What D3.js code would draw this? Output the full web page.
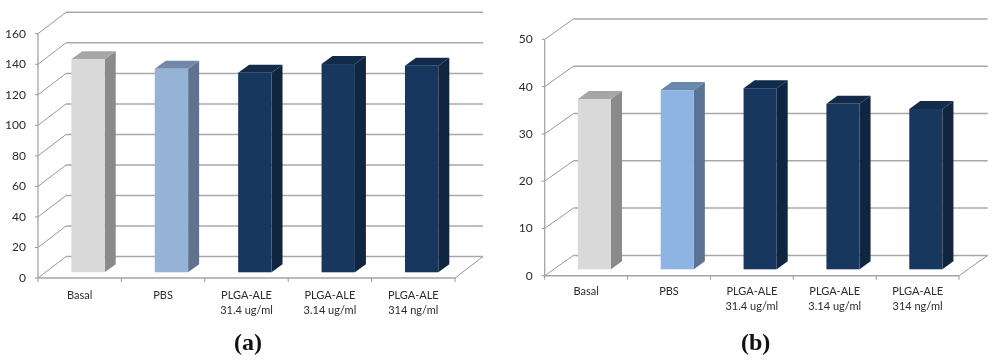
<!DOCTYPE html>
<html><head><meta charset="utf-8">
<script src="https://cdn.jsdelivr.net/npm/d3@7/dist/d3.min.js"></script>
<style>html,body{margin:0;padding:0;background:#fff}svg{display:block;filter:blur(0.35px)}</style>
</head><body><svg id="c" width="1000" height="362"></svg>
<script>
const categories = ["Basal","PBS","PLGA-ALE|31.4 ug/ml","PLGA-ALE|3.14 ug/ml","PLGA-ALE|314 ng/ml"];
const valuesA = [139.5,133.3,130.7,136.4,135.3];
const valuesB = [36,37.9,38.3,35,33.9];
const ticksA = [0,20,40,60,80,100,120,140,160];
const ticksB = [0,10,20,30,40,50];
const greyFill = {front:"#d9d9d9",top:"#a6a6a6",side:"#8a8a8a"};
const navyFill = {front:"#17375e",top:"#122b4b",side:"#10253f"};
const pbsA = {front:"#95b3d7",top:"#7288a8",side:"#5f7390"};
const pbsB = {front:"#8db4e2",top:"#6a87ad",side:"#5a7394"};

const svg = d3.select("#c");
const FONT = "Lato, 'Open Sans', sans-serif";

function panel(o){
  const g = svg.append("g");
  const y = d3.scaleLinear().domain(o.domain).range([o.y0,o.yTop]);
  const x = d3.scaleBand().domain(categories).range([o.x0,o.x1]);
  const band = x.bandwidth();
  const grid = "#a8a8a8";

  // back wall gridlines and side-wall diagonals
  o.ticks.forEach(t=>{
    g.append("line").attr("x1",o.x0+o.dx).attr("x2",o.x1+o.dx)
      .attr("y1",y(t)-o.dy).attr("y2",y(t)-o.dy)
      .attr("stroke",grid).attr("stroke-width",1.5);
    g.append("line").attr("x1",o.x0).attr("x2",o.x0+o.dx)
      .attr("y1",y(t)).attr("y2",y(t)-o.dy)
      .attr("stroke","#989898").attr("stroke-width",1);
    g.append("line").attr("x1",o.x0-3).attr("x2",o.x0)
      .attr("y1",y(t)).attr("y2",y(t))
      .attr("stroke","#989898").attr("stroke-width",1);
    g.append("text").attr("x",o.x0-12).attr("y",y(t)+4)
      .attr("text-anchor","end").attr("font-family",FONT).attr("font-size",o.tickSize)
      .attr("fill","#2b2b2b").text(t);
  });
  // right floor diagonal
  g.append("line").attr("x1",o.x1).attr("x2",o.x1+o.dx)
    .attr("y1",o.y0).attr("y2",o.y0-o.dy).attr("stroke","#989898").attr("stroke-width",1);
  // axes
  g.append("line").attr("x1",o.x0).attr("x2",o.x0).attr("y1",y(o.domain[1])).attr("y2",o.y0)
    .attr("stroke","#a4a4a4").attr("stroke-width",1.3);
  g.append("line").attr("x1",o.x0).attr("x2",o.x1).attr("y1",o.y0).attr("y2",o.y0)
    .attr("stroke","#a4a4a4").attr("stroke-width",1.5);
  d3.range(0,6).forEach(i=>{
    const px = o.x0+i*band;
    g.append("line").attr("x1",px).attr("x2",px).attr("y1",o.y0).attr("y2",o.y0+4)
      .attr("stroke","#989898").attr("stroke-width",1);
  });

  // bars
  const bw = band*0.4, off = band*0.4;
  const bars = g.selectAll("g.bar").data(o.values).join("g").attr("class","bar");
  const bx = (d,i)=>x(categories[i])+off;
  const top = d=>y(d)-o.lift;
  const bot = o.y0-o.lift;
  bars.append("path").attr("fill",(d,i)=>o.fills[i].side)
    .attr("d",(d,i)=>{const l=bx(d,i)+bw;return `M${l},${top(d)}L${l+o.sx},${top(d)-o.sy}L${l+o.sx},${bot-o.sy}L${l},${bot}Z`;});
  bars.append("path").attr("fill",(d,i)=>o.fills[i].top)
    .attr("d",(d,i)=>{const l=bx(d,i);return `M${l},${top(d)}L${l+o.sx},${top(d)-o.sy}L${l+bw+o.sx},${top(d)-o.sy}L${l+bw},${top(d)}Z`;});
  bars.append("rect").attr("fill",(d,i)=>o.fills[i].front)
    .attr("x",bx).attr("y",top).attr("width",bw).attr("height",d=>bot-top(d));

  // category labels
  categories.forEach(c=>{
    const lines = c.split("|");
    const t = g.append("text").attr("text-anchor","middle").attr("font-family",FONT)
      .attr("font-size",o.catSize).attr("fill","#2b2b2b");
    lines.forEach((s,i)=>{
      t.append("tspan").attr("x",x(c)+band/2+o.labelShift).attr("y",o.labelY+i*o.labelGap).text(s);
    });
  });
  // caption
  const cap = g.append("text").attr("x",o.capX).attr("y",350).attr("text-anchor","middle")
    .attr("font-family","'Liberation Serif',serif").attr("font-weight","bold").attr("font-size",24).attr("fill","#111");
  cap.append("tspan").text("(" + o.cap + ")");
}

panel({domain:[0,160],ticks:ticksA,values:valuesA,x0:38,x1:455,y0:278,yTop:33.7,dx:28,dy:21.4,
  lift:5.7,sx:11,sy:8,fills:[greyFill,pbsA,navyFill,navyFill,navyFill],
  tickSize:12,catSize:11,labelY:299,labelGap:14.5,labelShift:0,capX:248,cap:"a"});
panel({domain:[0,50],ticks:ticksB,values:valuesB,x0:544.7,x1:959,y0:275.7,yTop:39.3,dx:28.7,dy:20.3,
  lift:6.4,sx:11,sy:8,fills:[greyFill,pbsB,navyFill,navyFill,navyFill],
  tickSize:12,catSize:11,labelY:295,labelGap:14.5,labelShift:0,capX:755.7,cap:"b"});
</script></body></html>
